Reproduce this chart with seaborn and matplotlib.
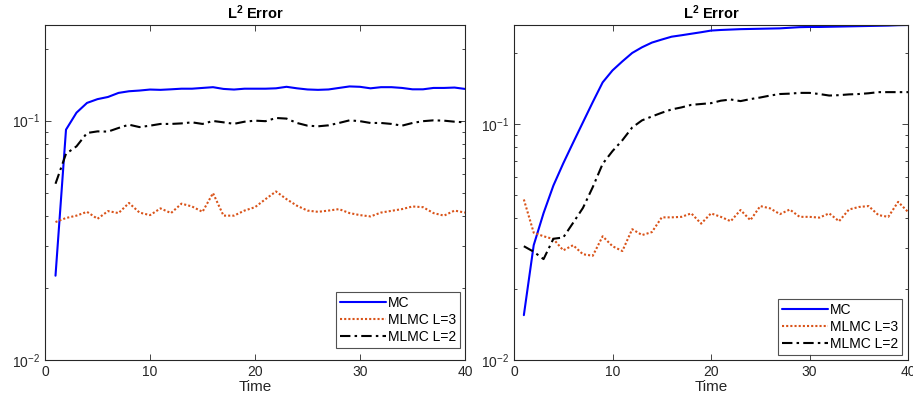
import numpy as np
import pandas as pd
import seaborn as sns
import matplotlib
matplotlib.use('Agg')
import matplotlib.pyplot as plt
from matplotlib.ticker import LogLocator

# datos
tiempo = list(range(1, 41))

izq_mc = [0.0225, 0.0917, 0.108, 0.1186, 0.123, 0.1256, 0.1306, 0.1327, 0.1336, 0.1349,
          0.1345, 0.1352, 0.136, 0.136, 0.137, 0.138, 0.1357, 0.1349, 0.136, 0.136,
          0.136, 0.1365, 0.1385, 0.1365, 0.135, 0.1345, 0.135, 0.137, 0.139, 0.1385,
          0.1365, 0.138, 0.138, 0.137, 0.1352, 0.1352, 0.137, 0.137, 0.1375, 0.1357]
izq_l3 = [0.0377, 0.0392, 0.0401, 0.0416, 0.0389, 0.0419, 0.0411, 0.0453, 0.0413, 0.0403,
          0.0430, 0.0411, 0.0450, 0.0438, 0.0416, 0.0498, 0.0401, 0.0401, 0.0421, 0.0435,
          0.0470, 0.0506, 0.047, 0.0441, 0.0421, 0.0416, 0.0421, 0.0427, 0.0411, 0.0403,
          0.0398, 0.0413, 0.042, 0.0427, 0.0438, 0.0435, 0.0411, 0.0401, 0.0421, 0.0413]
izq_l2 = [0.0545, 0.0727, 0.0781, 0.0888, 0.0902, 0.0900, 0.0932, 0.0962, 0.094, 0.0953,
          0.0969, 0.0969, 0.0974, 0.0984, 0.0969, 0.0997, 0.0984, 0.097, 0.099, 0.100,
          0.0995, 0.1026, 0.102, 0.0978, 0.0953, 0.0947, 0.0956, 0.0978, 0.1003, 0.0995,
          0.0978, 0.0978, 0.0969, 0.0953, 0.0978, 0.0995, 0.1003, 0.100, 0.099, 0.0984]

der_mc = [0.0155, 0.0307, 0.042, 0.055, 0.0683, 0.0836, 0.102, 0.1244, 0.1507, 0.1694,
          0.185, 0.2009, 0.2124, 0.2223, 0.229, 0.2355, 0.2388, 0.2424, 0.246, 0.250,
          0.2515, 0.2525, 0.2535, 0.254, 0.2545, 0.255, 0.2555, 0.257, 0.2585, 0.259,
          0.259, 0.2595, 0.26, 0.2605, 0.261, 0.2615, 0.262, 0.2625, 0.2635, 0.264]
der_l3 = [0.048, 0.0347, 0.0335, 0.0326, 0.0292, 0.0307, 0.0281, 0.0277, 0.0335, 0.0304,
          0.0290, 0.0359, 0.0339, 0.0349, 0.0403, 0.0403, 0.0405, 0.0419, 0.0379, 0.0419,
          0.0405, 0.0388, 0.0433, 0.0392, 0.045, 0.0440, 0.0416, 0.0435, 0.0405, 0.0405,
          0.0402, 0.0419, 0.0388, 0.0435, 0.0446, 0.045, 0.0412, 0.0405, 0.0469, 0.0425]
der_l2 = [0.0304, 0.0288, 0.0268, 0.0327, 0.0331, 0.0382, 0.0442, 0.0542, 0.068, 0.077,
          0.0856, 0.097, 0.104, 0.108, 0.112, 0.1157, 0.118, 0.121, 0.122, 0.123,
          0.126, 0.1275, 0.1255, 0.128, 0.130, 0.1325, 0.1345, 0.135, 0.136, 0.136,
          0.1345, 0.1325, 0.133, 0.134, 0.1345, 0.1355, 0.137, 0.137, 0.137, 0.137]

series = ['MC', 'MLMC L=3', 'MLMC L=2']

sns.set_style('ticks')
plt.rcParams['font.family'] = ['Liberation Sans', 'DejaVu Sans']
plt.rcParams['mathtext.fontset'] = 'custom'
plt.rcParams['mathtext.rm'] = 'Liberation Sans'
plt.rcParams['mathtext.bf'] = 'Liberation Sans:bold'

gris = '#262626'
colores = {'MC': '#0000ff', 'MLMC L=3': '#d95319', 'MLMC L=2': 'black'}
estilos = {'MC': '-', 'MLMC L=3': (0, (1, 1)), 'MLMC L=2': (0, (5, 2, 1.2, 2))}

W, H = 913, 403
fig = plt.figure(figsize=(W / 100, H / 100), dpi=100)
ax1 = fig.add_axes([45 / W, 43 / H, 420 / W, 335 / H])
ax2 = fig.add_axes([514 / W, 43 / H, 394 / W, 335 / H])

paneles = [
    (ax1, [izq_mc, izq_l3, izq_l2], 0.251, (0.988, 0.036)),
    (ax2, [der_mc, der_l3, der_l2], 0.264, (0.985, 0.015)),
]

for ax, valores, ytop, anchor in paneles:
    df = pd.DataFrame({'Time': tiempo * 3,
                       'err': valores[0] + valores[1] + valores[2],
                       'serie': np.repeat(series, len(tiempo))})
    for s in series:
        sub = df[df['serie'] == s]
        sns.lineplot(data=sub, x='Time', y='err', ax=ax, color=colores[s],
                     linestyle=estilos[s], linewidth=1.5, label=s)
    ax.set_yscale('log')
    ax.set_xlim(0, 40)
    ax.set_ylim(0.01, ytop)
    ax.set_xticks([0, 10, 20, 30, 40])
    ax.yaxis.set_major_locator(LogLocator(base=10, numticks=5))
    ax.yaxis.set_minor_locator(LogLocator(base=10, subs=np.arange(2, 10), numticks=20))
    ax.tick_params(which='both', direction='in', top=True, right=True,
                   colors=gris, labelsize=10, labelcolor=gris)
    ax.tick_params(which='major', length=4.5, width=0.6)
    ax.tick_params(which='minor', length=2.5, width=0.6)
    for sp in ax.spines.values():
        sp.set_color(gris)
        sp.set_linewidth(0.8)
    ax.set_xlabel('Time', fontsize=11, color=gris, labelpad=1)
    ax.set_ylabel('')
    ax.set_title(r'$\mathbf{L^2}$ Error', fontsize=10.5, fontweight='bold',
                 color='black', pad=4)
    leg = ax.legend(loc='lower right', bbox_to_anchor=anchor, borderaxespad=0,
                    frameon=True, fancybox=False, fontsize=10, handlelength=3.3,
                    handletextpad=0.1, borderpad=0.3, labelspacing=0.2)
    leg.get_frame().set_edgecolor(gris)
    leg.get_frame().set_linewidth(0.8)
    for txt in leg.get_texts():
        txt.set_color('black')

plt.savefig('out.png', dpi=100)
